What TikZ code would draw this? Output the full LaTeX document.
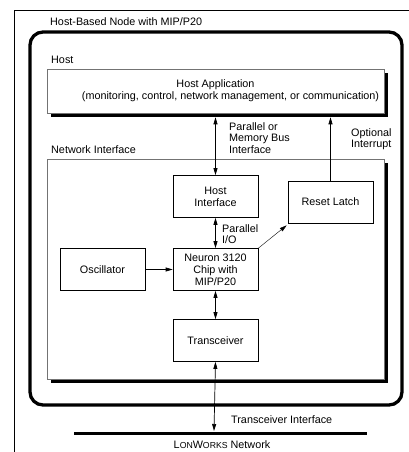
\documentclass[tikz,border=0pt]{standalone}
\usepackage{fontspec}
\setmainfont{Liberation Sans}
\usetikzlibrary{arrows.meta,shadows}

\begin{document}
\begin{tikzpicture}[x=1pt,y=-1pt,
        font=\fontsize{10.8}{11.8}\selectfont,
        blockbox/.style={draw,line width=0.7pt,minimum width=85pt,minimum height=42pt,align=center,inner sep=1pt},
        bigbox/.style={draw=black!55,line width=0.6pt,fill=white,minimum width=337pt,
            general shadow={fill=black,shadow xshift=4pt,shadow yshift=-4pt}},
        tip/.tip={Triangle[length=7pt,width=4pt]},
        twoway/.style={line width=0.7pt,tip-tip},
        oneway/.style={line width=0.7pt,-tip},
        lbl/.style={inner sep=0pt,align=left}]
    \useasboundingbox (0,0) rectangle (409,452);
    % frames
    \draw[line width=0.6pt] (14,452) -- (14,10) -- (409,10);
    \draw[line width=3.3pt,rounded corners=13pt] (30,32) rectangle (402,405);
    \node[bigbox,minimum height=44pt,align=center] (app) at (215.5,91)
        {Host Application\\\hspace*{30pt}(monitoring, control, network management, or communication)};
    \node[bigbox,minimum height=220pt] (netif) at (215.5,269) {};
    % blocks
    \node[blockbox] (hostif) at (215.5,196.5) {Host\\Interface};
    \node[blockbox] (latch) at (330.5,202) {Reset Latch};
    \node[blockbox] (osc) at (102.5,269.5) {Oscillator};
    \node[blockbox] (chip) at (215.5,269.5) {Neuron 3120\\Chip with\\MIP/P20};
    \node[blockbox] (xcvr) at (215.5,340.5) {Transceiver};
    % network
    \coordinate (busL) at (74,433);
    \coordinate (busR) at (367,433);
    \coordinate (bus) at (214,433);
    \draw[line width=3pt] (busL) -- (busR);
    % connectors
    \draw[twoway] ([yshift=-4pt]app.south -| hostif.north) -- (hostif.north);
    \draw[oneway] (latch.north) -- ([yshift=-4pt]app.south -| latch.north);
    \draw[twoway] (hostif.south) -- (chip.north);
    \draw[oneway] (osc.east) -- (chip.west);
    \draw[-tip,line width=0.4pt] (chip.north east) -- ([shift={(-1pt,-2pt)}]latch.south west);
    \draw[twoway] (chip.south) -- (xcvr.north);
    \draw[twoway] (xcvr.south) -- ([yshift=2pt]bus);
    % labels
    \node[lbl,anchor=west] (nodelbl) at (50,22) {Host-Based Node with MIP/P20};
    \node[lbl,anchor=west] (hostlbl) at (51,60) {Host};
    \node[lbl,anchor=west] (netlbl) at (51,150) {Network Interface};
    \node[lbl,anchor=north west] (buslbl) at (229,122) {Parallel or\\Memory Bus\\Interface};
    \node[lbl,anchor=north west] (irqlbl) at (351,128) {Optional\\Interrupt};
    \node[lbl,anchor=north west] (piolbl) at (222,224) {Parallel\\I/O};
    \node[lbl,anchor=west] (xcvrlbl) at (231,420) {Transceiver Interface};
    \node[lbl] (netname) at (222,445) {L{\fontsize{8.7}{10}\selectfont ON}W{\fontsize{8.7}{10}\selectfont ORKS} Network};
\end{tikzpicture}
\end{document}
